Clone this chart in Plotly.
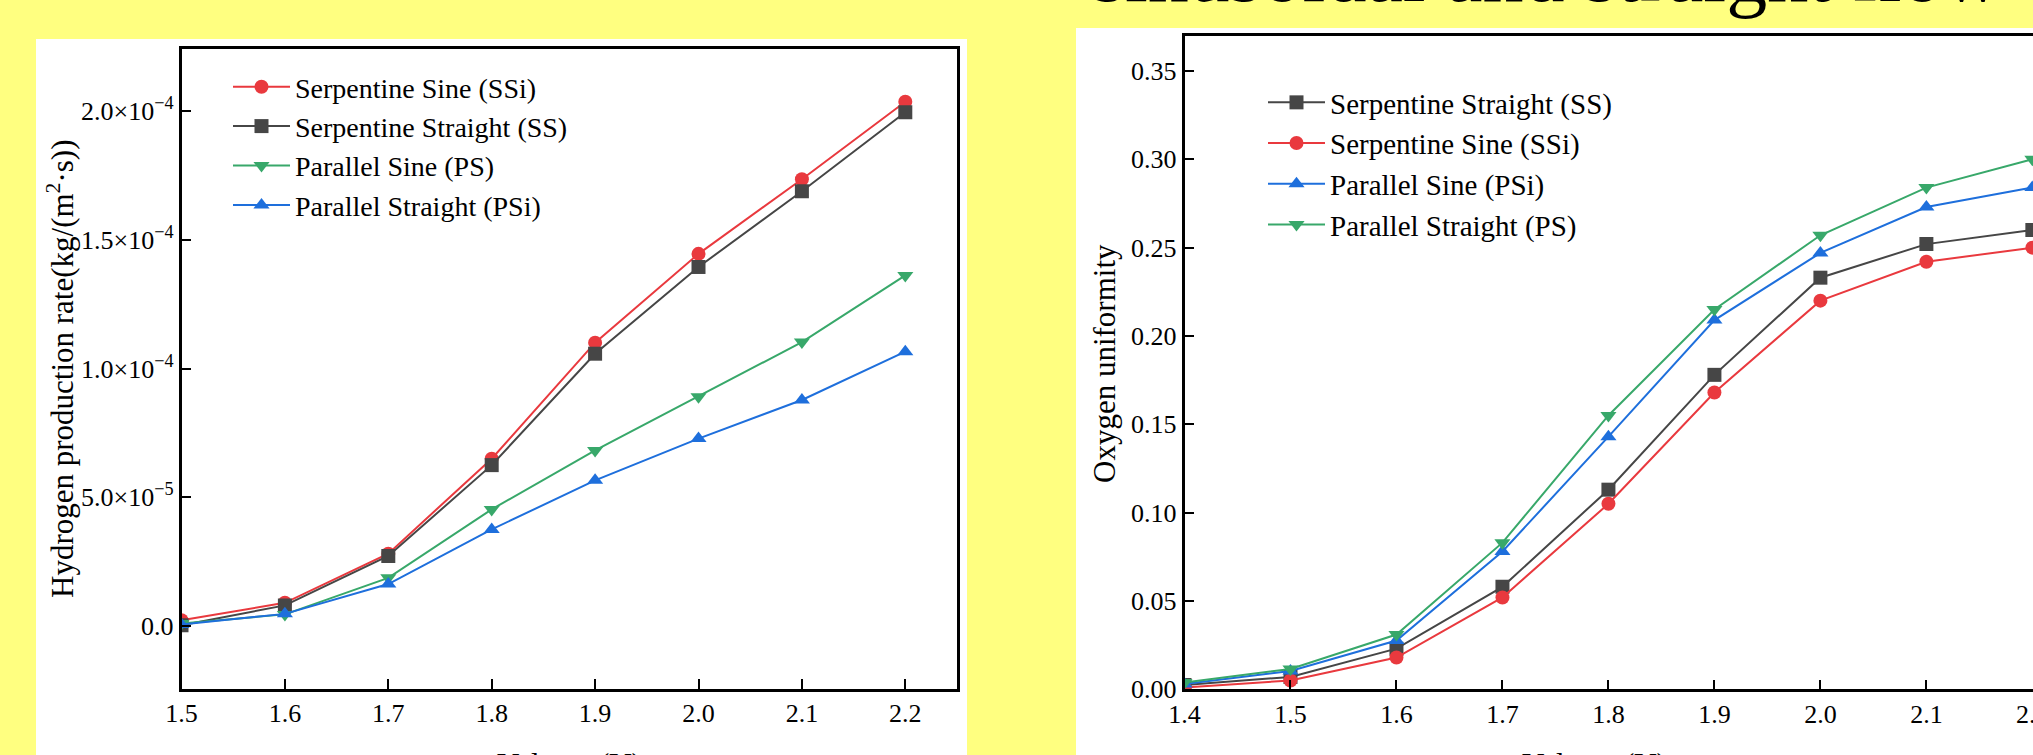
import plotly.graph_objects as go

W, H = 2033, 755

# ---------------- data ----------------
voltage_h2 = [1.5, 1.6, 1.7, 1.8, 1.9, 2.0, 2.1, 2.2]
h2_ssi = [2.2e-6, 9.0e-6, 2.81e-5, 6.50e-5, 1.101e-4, 1.446e-4, 1.736e-4, 2.037e-4]
h2_ss = [0.3e-6, 8.0e-6, 2.72e-5, 6.25e-5, 1.058e-4, 1.395e-4, 1.689e-4, 1.996e-4]
h2_ps = [1.0e-6, 4.5e-6, 1.87e-5, 4.53e-5, 6.82e-5, 8.91e-5, 1.103e-4, 1.362e-4]
h2_psi = [0.6e-6, 4.7e-6, 1.63e-5, 3.75e-5, 5.66e-5, 7.28e-5, 8.78e-5, 1.066e-4]

h2_tickvals = [0.0, 5.0e-5, 1.0e-4, 1.5e-4, 2.0e-4]
h2_ticktext = ["0.0", "5.0×10<sup>−5</sup>", "1.0×10<sup>−4</sup>",
               "1.5×10<sup>−4</sup>", "2.0×10<sup>−4</sup>"]

voltage_o2 = [1.4, 1.5, 1.6, 1.7, 1.8, 1.9, 2.0, 2.1, 2.2]
o2_ss = [0.0025, 0.007, 0.023, 0.058, 0.113, 0.178, 0.233, 0.252, 0.260]
o2_ssi = [0.001, 0.005, 0.018, 0.052, 0.105, 0.168, 0.220, 0.242, 0.250]
o2_psi = [0.003, 0.0104, 0.0276, 0.078, 0.143, 0.209, 0.247, 0.273, 0.284]
o2_ps = [0.0038, 0.0115, 0.031, 0.083, 0.155, 0.215, 0.257, 0.284, 0.300]

o2_tickvals = [0.00, 0.05, 0.10, 0.15, 0.20, 0.25, 0.30, 0.35]
o2_ticktext = ["0.00", "0.05", "0.10", "0.15", "0.20", "0.25", "0.30", "0.35"]

# ---------------- style ----------------
RED = "#E9393E"
GRAY = "#464646"
GREEN = "#38A86A"
BLUE = "#1E6FDC"
YELLOW = "#FFFF80"
FONT = "Liberation Serif"


def px_x(p):
    return p / W


def px_y(p):
    return 1 - p / H


fig = go.Figure()


def add(x, y, name, color, symbol, xa, ya, legend):
    fig.add_trace(go.Scatter(
        x=x, y=y, name=name, mode="lines+markers",
        line=dict(color=color, width=2),
        marker=dict(color=color, symbol=symbol, size=14),
        xaxis=xa, yaxis=ya, legend=legend,
    ))


add(voltage_h2, h2_ssi, "Serpentine Sine (SSi)", RED, "circle", "x", "y", "legend")
add(voltage_h2, h2_ss, "Serpentine Straight (SS)", GRAY, "square", "x", "y", "legend")
add(voltage_h2, h2_ps, "Parallel Sine (PS)", GREEN, "triangle-down", "x", "y", "legend")
add(voltage_h2, h2_psi, "Parallel Straight (PSi)", BLUE, "triangle-up", "x", "y", "legend")

add(voltage_o2, o2_ss, "Serpentine Straight (SS)", GRAY, "square", "x2", "y2", "legend2")
add(voltage_o2, o2_ssi, "Serpentine Sine (SSi)", RED, "circle", "x2", "y2", "legend2")
add(voltage_o2, o2_psi, "Parallel Sine (PSi)", BLUE, "triangle-up", "x2", "y2", "legend2")
add(voltage_o2, o2_ps, "Parallel Straight (PS)", GREEN, "triangle-down", "x2", "y2", "legend2")

axis_common = dict(
    showline=True, linecolor="black", linewidth=2.5, mirror=True,
    ticks="inside", ticklen=10, tickwidth=2, tickcolor="black",
    showgrid=False, zeroline=False, automargin=False,
    ticklabeloverflow="allow",
    tickfont=dict(family=FONT, size=26, color="black"),
)

legend_common = dict(
    bgcolor="rgba(0,0,0,0)", borderwidth=0,
    xanchor="left", yanchor="top", itemwidth=57,
    traceorder="normal",
)

fig.update_layout(
    width=W, height=H,
    margin=dict(l=0, r=0, t=0, b=0, pad=0, autoexpand=False),
    paper_bgcolor=YELLOW, plot_bgcolor="white",
    showlegend=True,
    xaxis=dict(domain=[px_x(181.5), px_x(957)], range=[1.5, 2.25],
               tickvals=voltage_h2, ticktext=[f"{v:.1f}" for v in voltage_h2],
               anchor="y", **axis_common),
    yaxis=dict(domain=[px_y(688.5), px_y(49)], range=[-2.43e-5, 2.242e-4],
               tickvals=h2_tickvals, ticktext=h2_ticktext,
               anchor="x", **axis_common),
    xaxis2=dict(domain=[px_x(1184.5), 1.0], range=[1.4, 2.2006],
                tickvals=voltage_o2, ticktext=[f"{v:.1f}" for v in voltage_o2],
                anchor="y2", **axis_common),
    yaxis2=dict(domain=[px_y(689.3), px_y(36)], range=[0, 0.3698],
                tickvals=o2_tickvals, ticktext=o2_ticktext,
                anchor="x2", **axis_common),
    legend=dict(x=px_x(228), y=px_y(62),
                font=dict(family=FONT, size=28, color="black"), **legend_common),
    legend2=dict(x=px_x(1263), y=px_y(77),
                 font=dict(family=FONT, size=29, color="black"), **legend_common),
    shapes=[
        dict(type="rect", xref="paper", yref="paper", layer="below",
             x0=px_x(36), x1=px_x(967), y0=0, y1=px_y(39),
             fillcolor="white", line=dict(width=0)),
        dict(type="rect", xref="paper", yref="paper", layer="below",
             x0=px_x(1076), x1=1.0, y0=0, y1=px_y(28),
             fillcolor="white", line=dict(width=0)),
    ],
    annotations=[
        dict(text="Hydrogen production rate(kg/(m<sup>2</sup>·s))",
             xref="paper", yref="paper", x=px_x(60), y=px_y(369),
             xanchor="center", yanchor="middle", textangle=-90, showarrow=False,
             font=dict(family=FONT, size=31, color="black")),
        dict(text="Oxygen uniformity",
             xref="paper", yref="paper", x=px_x(1104), y=px_y(364),
             xanchor="center", yanchor="middle", textangle=-90, showarrow=False,
             font=dict(family=FONT, size=31, color="black")),
        dict(text="Voltage (V)",
             xref="paper", yref="paper", x=px_x(569), y=px_y(745),
             xanchor="center", yanchor="top", showarrow=False,
             font=dict(family=FONT, size=31, color="black")),
        dict(text="Voltage (V)",
             xref="paper", yref="paper", x=px_x(1594), y=px_y(745),
             xanchor="center", yanchor="top", showarrow=False,
             font=dict(family=FONT, size=31, color="black")),
        dict(text="sinusoidal and straight flow",
             xref="paper", yref="paper", x=px_x(1091), y=px_y(21),
             xanchor="left", yanchor="bottom", showarrow=False,
             font=dict(family=FONT, size=82, color="black")),
    ],
)

fig.write_html("out.html")
